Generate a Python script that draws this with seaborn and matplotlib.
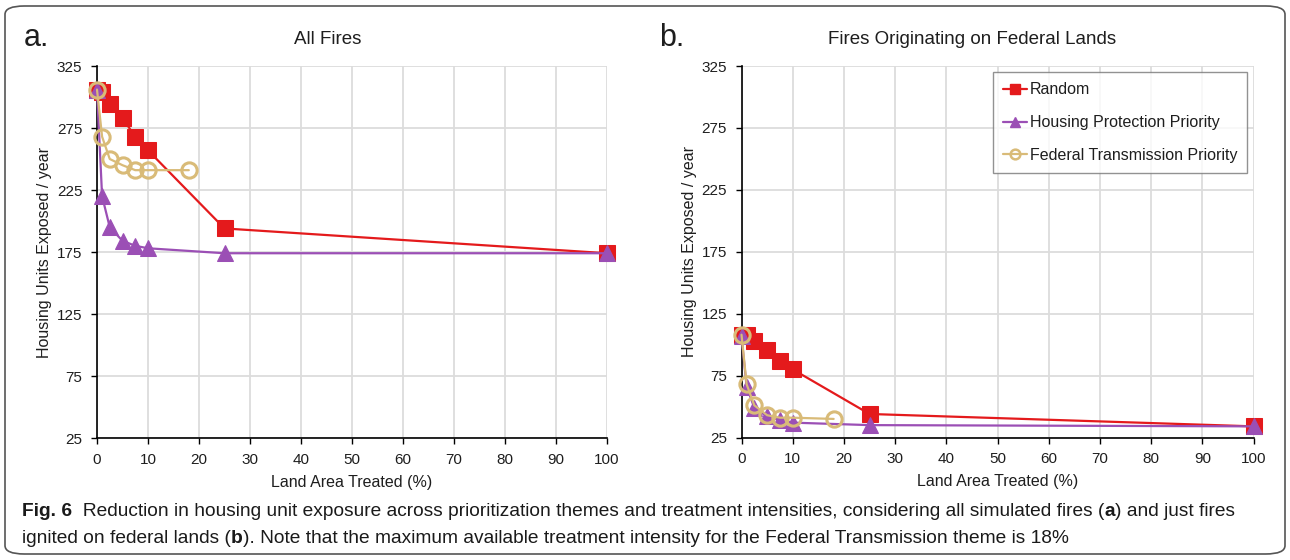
import matplotlib
matplotlib.use("Agg")
import matplotlib.pyplot as plt
import seaborn as sns
from matplotlib.patches import FancyBboxPatch
from matplotlib.lines import Line2D

# ---- data ----
x_random = [0, 1, 2.5, 5, 7.5, 10, 25, 100]
x_housing = [0, 1, 2.5, 5, 7.5, 10, 25, 100]
x_federal = [0, 1, 2.5, 5, 7.5, 10, 18]

a_random = [306, 304, 294, 283, 268, 257, 194, 174]
a_housing = [306, 220, 195, 184, 180, 178, 174, 174]
a_federal = [306, 268, 250, 245, 241, 241, 241]

b_random = [108, 108, 103, 96, 87, 80, 44, 34]
b_housing = [107, 66, 49, 42, 39, 37, 35, 34]
b_federal = [108, 68, 51, 43, 41, 41, 40]

series_names = ["Random", "Housing Protection Priority", "Federal Transmission Priority"]
panel_titles = ["All Fires", "Fires Originating on Federal Lands"]
panel_letters = ["a.", "b."]
y_ticks = [25, 75, 125, 175, 225, 275, 325]
x_ticks = [0, 10, 20, 30, 40, 50, 60, 70, 80, 90, 100]
x_label = "Land Area Treated (%)"
y_label = "Housing Units Exposed / year"

# ---- style ----
sns.set_style("white")
plt.rcParams["font.family"] = ["Liberation Sans", "DejaVu Sans"]

c_random = "#e41a1c"
c_housing = "#9b4fb5"
c_federal = "#d9bb78"
txt_c = "#1e1e1e"

fig = plt.figure(figsize=(12.9, 5.6), dpi=100)

# outer rounded frame
frame = FancyBboxPatch((5 / 1290, 6 / 560), 1280 / 1290, 548 / 560,
                       boxstyle="round,pad=0,rounding_size=0.015",
                       transform=fig.transFigure, fill=False,
                       edgecolor="#555555", linewidth=1.2)
fig.patches.append(frame)

ax_pos = [
    [97 / 1290, (560 - 438) / 560, 510 / 1290, 372 / 560],
    [741.5 / 1290, (560 - 437.5) / 560, 512 / 1290, 371.5 / 560],
]
title_x = [0.453, 0.45]

panels = [
    (a_random, a_housing, a_federal),
    (b_random, b_housing, b_federal),
]

for i, (yr, yh, yf) in enumerate(panels):
    ax = fig.add_axes(ax_pos[i])
    sns.lineplot(x=x_random, y=yr, ax=ax, color=c_random, linewidth=1.6,
                 marker="s", markersize=12, markeredgecolor=c_random,
                 label=series_names[0], clip_on=False, zorder=3)
    sns.lineplot(x=x_housing, y=yh, ax=ax, color=c_housing, linewidth=1.6,
                 marker="^", markersize=11, markeredgecolor=c_housing,
                 label=series_names[1], clip_on=False, zorder=4)
    sns.lineplot(x=x_federal, y=yf, ax=ax, color=c_federal, linewidth=1.6,
                 marker="o", markersize=11, markerfacecolor="none",
                 markeredgewidth=2.2, markeredgecolor=c_federal,
                 label=series_names[2], clip_on=False, zorder=5)
    ax.set_xlim(0, 100)
    ax.set_ylim(25, 325)
    ax.set_xticks(x_ticks)
    ax.set_yticks(y_ticks)
    ax.grid(True, color="#dcdcdc", linewidth=1.3)
    ax.set_axisbelow(True)
    for s in ["top", "right"]:
        ax.spines[s].set_visible(False)
    for s in ["left", "bottom"]:
        ax.spines[s].set_color("black")
        ax.spines[s].set_linewidth(1.2)
    ax.tick_params(axis="both", which="major", direction="out", length=4,
                   width=1, color="black", labelsize=11, labelcolor=txt_c,
                   left=True, bottom=True, pad=6.5)
    ax.set_xlabel(x_label, fontsize=11.5, color=txt_c, labelpad=6)
    ax.set_ylabel(y_label, fontsize=11.5, color=txt_c, labelpad=3.5)
    ax.set_title(panel_titles[i], fontsize=13.5, color=txt_c, pad=16, x=title_x[i])
    if i == 0:
        ax.get_legend().remove()
    else:
        handles = [
            Line2D([], [], color=c_random, marker="s", markersize=7.5, linewidth=1.6),
            Line2D([], [], color=c_housing, marker="^", markersize=7, linewidth=1.6),
            Line2D([], [], color=c_federal, marker="o", markersize=7, linewidth=1.6,
                   markerfacecolor="none", markeredgewidth=1.8),
        ]
        leg = ax.legend(handles, series_names, loc="upper right",
                        bbox_to_anchor=(1.0, 1.0), fontsize=11.5,
                        frameon=True, fancybox=False, edgecolor="#777777",
                        handlelength=1.5, handletextpad=0.15, labelspacing=1.12,
                        borderpad=0.62, borderaxespad=0.4)
        leg.get_frame().set_linewidth(1.0)
        for t in leg.get_texts():
            t.set_color(txt_c)

# panel letters
fig.text(24 / 1290, 1 - 38 / 560, panel_letters[0], fontsize=22, va="center",
         ha="left", color=txt_c)
fig.text(659 / 1290, 1 - 38 / 560, panel_letters[1], fontsize=22, va="center",
         ha="left", color=txt_c)

# caption
cap_font = ["Liberation Sans Narrow", "Liberation Sans", "DejaVu Sans"]
cap_size = 13.8


def chain(pieces, x, y):
    first_txt, first_bold = pieces[0]
    prev = fig.text(x, y, first_txt, fontsize=cap_size, family=cap_font,
                    fontweight="bold" if first_bold else "normal",
                    va="bottom", ha="left", color="#1a1a1a")
    for txt, bold in pieces[1:]:
        prev = fig.axes[0].annotate(txt, xy=(1, 0), xycoords=prev,
                                    fontsize=cap_size, family=cap_font,
                                    fontweight="bold" if bold else "normal",
                                    va="bottom", ha="left", color="#1a1a1a",
                                    annotation_clip=False)


line1 = [("Fig. 6", True),
         ("  Reduction in housing unit exposure across prioritization themes and treatment intensities, considering all simulated fires (", False),
         ("a", True),
         (") and just fires", False)]
line2 = [("ignited on federal lands (", False),
         ("b", True),
         ("). Note that the maximum available treatment intensity for the Federal Transmission theme is 18%", False)]

chain(line1, 22 / 1290, 1 - 520 / 560)
chain(line2, 22 / 1290, 1 - 547 / 560)

fig.savefig("out.png", dpi=100)
